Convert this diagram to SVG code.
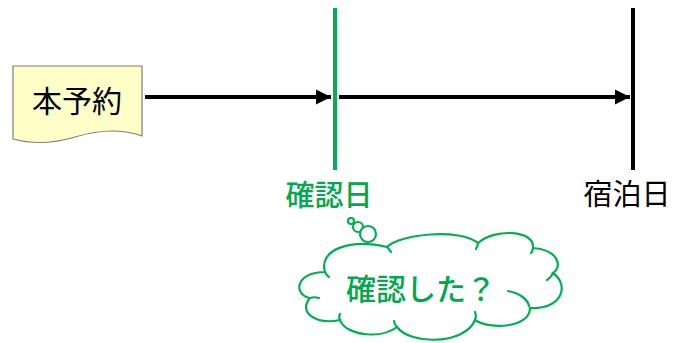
<svg xmlns="http://www.w3.org/2000/svg" width="675" height="343" viewBox="0 0 675 343">
<defs>
<style>
.t{font-family:"Noto Sans CJK JP","Noto Sans",sans-serif;text-anchor:middle}
.g{fill:#00A84F;font-weight:500}
.cl{fill:#fff;stroke:#00B050;stroke-width:2.2}
.in{fill:none;stroke:#00B050;stroke-width:2.2;stroke-linecap:round}
.conn{stroke:#000;stroke-width:4;fill:none}
</style>
<marker id="ah" markerWidth="16" markerHeight="16" viewBox="0 0 16 16" refX="15" refY="8" orient="auto" markerUnits="userSpaceOnUse">
<path d="M0,0.5 L15,8 L0,15.5 Z" fill="#000"/>
</marker>
</defs>
<rect width="675" height="343" fill="#fff"/>
<g id="doc">
<path d="M13,66 H142 V136 C120,128 95,131 75,137 C55,143 35,145 13,139 Z" fill="#FFFFC8" stroke="#7F7F7F" stroke-width="1.2"/>
<text class="t" x="77" y="112" font-size="30" fill="#000">本予約</text>
</g>
<g id="confirm">
<line x1="335" y1="8" x2="335" y2="170" stroke="#00B050" stroke-width="4"/>
<text class="t g" x="329" y="206" font-size="29">確認日</text>
</g>
<g id="stay">
<line x1="633" y1="8" x2="633" y2="170" stroke="#000" stroke-width="4"/>
<text class="t" x="627" y="205" font-size="29" fill="#000">宿泊日</text>
</g>
<g id="connectors">
<line class="conn" x1="145" y1="97" x2="331" y2="97" marker-end="url(#ah)"/>
<line class="conn" x1="339" y1="97" x2="630" y2="97" marker-end="url(#ah)"/>
</g>
<g id="cloud">
<circle class="cl" cx="351" cy="221" r="3"/>
<circle class="cl" cx="358" cy="227" r="5"/>
<circle class="cl" cx="368" cy="234" r="8"/>
<path class="cl" d="M325,272 C318,250 350,238 387,247 C400,234 460,228 478,243 C495,228 535,230 533,248 C560,250 562,268 553,273 C570,285 562,310 530,308 C530,328 490,330 475,320 C465,345 410,345 397,327 C380,340 345,335 340,320 C315,325 298,312 310,298 C293,295 295,272 325,272 Z"/>
<path class="in" d="M508,291 C520,293 528,300 529,306 M553,273 C552,276 550,278 547,280 M475,320 C476,317 476,314 475,312 M397,327 C395,325 394,323 394,321 M340,320 C339,318 339,316 340,314 M310,298 C313,297 316,297 319,298 M325,272 C326,274 327,276 329,277 M387,247 C389,249 390,250 391,252 M478,243 C478,245 477,247 476,249 M533,248 C533,250 532,252 531,253"/>
<text class="t g" x="421" y="300" font-size="30">確認した？</text>
</g>
</svg>
